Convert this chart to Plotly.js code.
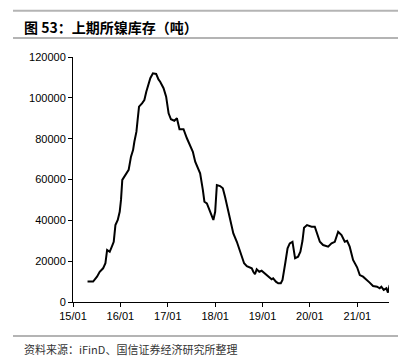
<!DOCTYPE html>
<html>
<head>
<meta charset="utf-8">
<script src="https://cdn.plot.ly/plotly-3.0.1.min.js"></script>
<style>html,body{margin:0;padding:0;background:#fff;}#chart{width:411px;height:363px;}</style>
</head>
<body>
<div id="chart"></div>
<script>
const dates = [
"2015-04-23","2015-06-05","2015-07-05","2015-07-26","2015-08-21","2015-09-08","2015-09-21","2015-10-11","2015-11-01","2015-11-11",
"2015-11-24","2015-12-12","2015-12-27","2016-01-06","2016-01-16","2016-02-08","2016-03-05","2016-03-23","2016-04-08","2016-04-18",
"2016-05-04","2016-05-13","2016-05-24","2016-06-16","2016-07-04","2016-07-19","2016-08-06","2016-08-19","2016-09-08","2016-10-03",
"2016-10-21","2016-11-03","2016-11-29","2016-12-19","2017-01-07","2017-01-25","2017-02-20","2017-03-12","2017-04-01","2017-05-02",
"2017-05-28","2017-06-23","2017-07-13","2017-07-31","2017-08-18","2017-09-07","2017-09-28","2017-10-10","2017-10-29","2017-11-18",
"2017-12-06","2017-12-18","2018-01-01","2018-01-14","2018-02-08","2018-03-01","2018-03-18","2018-04-13","2018-05-09","2018-05-21",
"2018-06-17","2018-07-07","2018-07-25","2018-08-12","2018-09-02","2018-09-22","2018-10-10","2018-10-22","2018-11-04","2018-11-17",
"2018-12-07","2018-12-25","2019-01-12","2019-02-02","2019-02-22","2019-03-12","2019-03-24","2019-04-14","2019-05-02","2019-05-22",
"2019-06-04","2019-06-14","2019-06-27","2019-07-13","2019-07-30","2019-08-20","2019-08-30","2019-09-09","2019-10-02","2019-10-20",
"2019-11-05","2019-11-17","2019-12-10","2020-01-14","2020-02-08","2020-02-26","2020-03-18","2020-04-12","2020-05-21","2020-06-16",
"2020-07-11","2020-08-06","2020-09-01","2020-09-26","2020-10-14","2020-11-03","2020-11-29","2020-12-30","2021-01-20","2021-02-14",
"2021-03-12","2021-04-06","2021-05-02","2021-06-02","2021-06-22","2021-07-05","2021-07-23","2021-08-13","2021-08-25","2021-09-07"
];
const stock = [
10000,10000,12400,14800,16500,19000,25500,24600,27900,29500,
37700,40200,44200,50000,59800,62200,64700,71200,74400,78500,
83400,89100,95700,97300,98900,103000,106300,109600,112000,111700,
109000,107900,104700,100600,92400,89500,88800,90000,84600,84600,
80200,76900,73600,68700,66300,63000,54900,49100,48300,45100,
41800,40200,44200,57300,56800,55700,51500,44200,38500,33600,
29500,25500,21400,19000,17600,17000,16500,14800,13600,16000,
14800,15300,14400,13200,12400,11100,11600,9950,9150,9150,
10800,15700,19700,26300,28700,29500,24600,21400,22200,24600,
30000,36400,37700,36900,36900,33600,29500,27900,27100,28700,
29500,34400,32800,29500,30000,27100,20600,17000,13200,12400,
11100,9500,7800,7500,6700,7500,5900,6700,4600,8300
];
const titleText = "图 53：上期所镍库存（吨）";
const sourceText = "资料来源：iFinD、国信证券经济研究所整理";

const L = 73, R = 22, T = 57, B = 61, W = 411, H = 363;
const pw = W - L - R, ph = H - T - B;
const px = x => (x - L) / pw;
const py = y => (H - B - y) / ph;

const rule = y => ({type:'line', xref:'paper', yref:'paper', x0:px(13), x1:px(398), y0:py(y), y1:py(y),
  line:{color:'#b4b4b4', width:2}});

Plotly.newPlot('chart', [{
  x: dates, y: stock, type:'scatter', mode:'lines',
  line:{color:'#000', width:2}, hoverinfo:'skip'
}], {
  width: W, height: H,
  margin:{l:L, r:R, t:T, b:B, pad:0},
  paper_bgcolor:'#fff', plot_bgcolor:'#fff',
  showlegend:false,
  font:{family:'"Liberation Sans", Arial, sans-serif', size:11, color:'#000'},
  xaxis:{type:'date', range:['2015-01-01','2021-09-02'], tick0:'2015-01-01', dtick:'M12', tickformat:'%y/%m',
    showgrid:false, zeroline:false, showline:true, linecolor:'#000', linewidth:1,
    ticks:'outside', ticklen:4, tickcolor:'#000', tickfont:{size:11}},
  yaxis:{range:[0,120000], dtick:20000, showgrid:false, zeroline:false, showline:true, linecolor:'#000', linewidth:1,
    ticks:'outside', ticklen:4, tickcolor:'#000', tickfont:{size:11}, tickformat:'d'},
  shapes:[rule(10.7), rule(38), rule(336)],
  annotations:[
    {xref:'paper', yref:'paper', x:px(22), y:py(26.5), xanchor:'left', yanchor:'middle', showarrow:false,
      text:'<b>'+titleText+'</b>', font:{family:'"Noto Sans CJK SC", sans-serif', size:14, color:'#000'}},
    {xref:'paper', yref:'paper', x:px(22), y:py(349), xanchor:'left', yanchor:'middle', showarrow:false,
      text:sourceText, font:{family:'"Noto Sans CJK SC", sans-serif', size:11, color:'#333'}}
  ]
}, {staticPlot:true, displayModeBar:false});
</script>
</body>
</html>
